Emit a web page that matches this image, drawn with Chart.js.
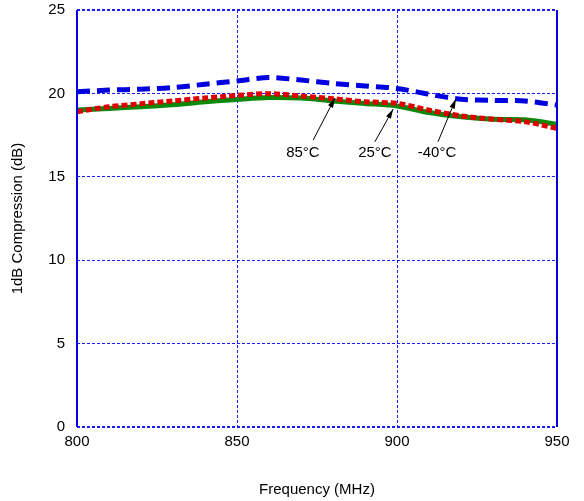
<!DOCTYPE html>
<html lang="en">
<head>
<meta charset="UTF-8">
<title>1dB Compression vs Frequency</title>
<style>
  *{box-sizing:border-box;margin:0;padding:0}
  body{background:#fff;width:584px;height:501px;overflow:hidden}
  #wrap{position:relative;width:584px;height:501px}
</style>
</head>
<body>
<div id="wrap"><canvas id="chart" width="584" height="501"></canvas></div>

<script src="https://cdn.jsdelivr.net/npm/chart.js@4.4.0"></script>
<script>
/* Data */
const freq   = [800,810,820,830,840,850,860,870,880,890,900,910,920,930,940,950];
const tM40   = [20.1,20.2,20.25,20.35,20.55,20.75,20.95,20.8,20.6,20.45,20.3,19.95,19.65,19.58,19.55,19.3];
const t25    = [19.0,19.1,19.2,19.32,19.5,19.64,19.75,19.72,19.55,19.4,19.25,18.85,18.6,18.45,18.42,18.15];
const t85    = [18.9,19.2,19.38,19.55,19.72,19.88,19.98,19.85,19.68,19.5,19.4,19.0,18.65,18.45,18.3,17.9];

const xTicks = [800,850,900,950];
const yTicks = [0,5,10,15,20,25];

/* Annotation labels and arrows: [text, textX, textY, tailX, tailY, headX, headY] in data units */
const notes = [
  ['85°C', 870.6,16.45, 873.8,17.2, 880.6,19.72],
  ['25°C', 893.1,16.45, 893.1,17.1, 898.8,19.06],
  ['-40°C',912.5,16.45, 912.8,17.1, 918.4,19.66]
];

const FONT = 'Liberation Sans, Arial, sans-serif';
const BLUE = '#0000e0';
const GRID = '#1a1aff';

const pts = arr => freq.map((f,i)=>({x:f,y:arr[i]}));

const frame = {
  id:'frame',
  afterDraw(chart){
    const {ctx, chartArea:a, scales:{x,y}} = chart;
    ctx.save();
    ctx.strokeStyle = BLUE; ctx.lineWidth = 2;
    ctx.beginPath();
    ctx.moveTo(a.left,a.top); ctx.lineTo(a.left,a.bottom);
    ctx.moveTo(a.right,a.top); ctx.lineTo(a.right,a.bottom);
    ctx.stroke();
    // annotations
    ctx.strokeStyle = '#000'; ctx.fillStyle = '#000'; ctx.lineWidth = 1;
    ctx.font = '15px ' + FONT; ctx.textAlign = 'center'; ctx.textBaseline = 'middle';
    notes.forEach(n=>{
      ctx.fillText(n[0], x.getPixelForValue(n[1]), y.getPixelForValue(n[2]));
      const x0=x.getPixelForValue(n[3]), y0=y.getPixelForValue(n[4]);
      const x1=x.getPixelForValue(n[5]), y1=y.getPixelForValue(n[6]);
      ctx.beginPath(); ctx.moveTo(x0,y0); ctx.lineTo(x1,y1); ctx.stroke();
      const ang = Math.atan2(y1-y0,x1-x0), L=10, W=0.28;
      ctx.beginPath();
      ctx.moveTo(x1,y1);
      ctx.lineTo(x1-L*Math.cos(ang-W), y1-L*Math.sin(ang-W));
      ctx.lineTo(x1-L*Math.cos(ang+W), y1-L*Math.sin(ang+W));
      ctx.closePath(); ctx.fill();
    });
    ctx.restore();
  }
};

new Chart(document.getElementById('chart'),{
  type:'line',
  data:{datasets:[
    {label:'-40°C',data:pts(tM40),borderColor:BLUE,borderWidth:5,borderDash:[13,7],tension:.3,pointRadius:0},
    {label:'85°C',data:pts(t85),borderColor:'#e00000',borderWidth:5,borderDash:[6,3],tension:.3,pointRadius:0},
    {label:'25°C',data:pts(t25),borderColor:'#0a8a0a',borderWidth:5,tension:.3,pointRadius:0}
  ]},
  options:{
    responsive:false, animation:false,
    layout:{padding:{top:10,right:27,bottom:0,left:0}},
    plugins:{legend:{display:false},tooltip:{enabled:false}},
    scales:{
      x:{type:'linear',min:800,max:950,
        afterBuildTicks:s=>{s.ticks=xTicks.map(v=>({value:v}));},
        afterFit:s=>{s.height=74;s.paddingLeft=0;s.paddingRight=0;},
        ticks:{color:'#000',font:{family:FONT,size:15},padding:6,maxRotation:0},
        grid:{color:c=>(c.tick&&(c.tick.value===800||c.tick.value===950))?'rgba(0,0,0,0)':GRID,lineWidth:1,drawTicks:false},
        border:{display:false,dash:[3,2]},
        title:{display:true,text:'Frequency (MHz)',color:'#000',font:{family:FONT,size:15},padding:{top:0,bottom:2}}
      },
      y:{min:0,max:25,
        afterBuildTicks:s=>{s.ticks=yTicks.map(v=>({value:v}));},
        afterFit:s=>{s.width=77;s.paddingTop=0;s.paddingBottom=0;},
        ticks:{color:'#000',font:{family:FONT,size:15},padding:12},
        grid:{color:GRID,lineWidth:c=>(c.tick&&(c.tick.value===0||c.tick.value===25))?2:1,drawTicks:false},
        border:{display:false,dash:[3,2]},
        title:{display:true,text:'1dB Compression (dB)',color:'#000',font:{family:FONT,size:15},padding:{top:9,bottom:0}}
      }
    }
  },
  plugins:[frame]
});
</script>
</body>
</html>
